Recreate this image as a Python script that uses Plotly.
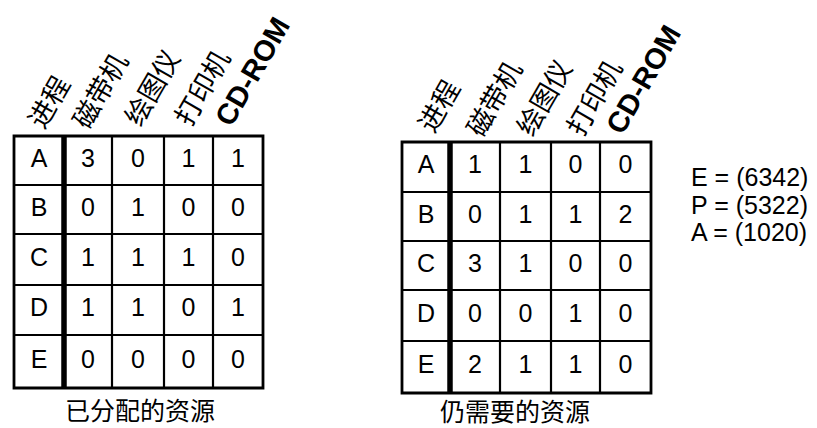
import plotly.graph_objects as go

# ---------------- data ----------------
processes = ["A", "B", "C", "D", "E"]
header_first = "进程"
resources = ["磁带机", "绘图仪", "打印机", "CD-ROM"]
allocated = [
    [3, 0, 1, 1],
    [0, 1, 0, 0],
    [1, 1, 1, 0],
    [1, 1, 0, 1],
    [0, 0, 0, 0],
]
still_needed = [
    [1, 1, 0, 0],
    [0, 1, 1, 2],
    [3, 1, 0, 0],
    [0, 0, 1, 0],
    [2, 1, 1, 0],
]
caption_left = "已分配的资源"
caption_right = "仍需要的资源"
vector_names = ["E", "P", "A"]
vector_values = ["6342", "5322", "1020"]

# ---------------- layout / style ----------------
W, H = 817, 428
LATIN = "Liberation Sans, Arial, Helvetica, sans-serif"
CJK = "Noto Sans CJK SC, sans-serif"

tables = [
    dict(values=allocated, caption=caption_left,
         cols=[14, 64, 112, 164, 213, 263],
         rows=[136, 185, 234, 285, 335, 388],
         hdx=[8, 10, 12, 11.5, 14], hdy=[35, 46, 49, 49, 64],
         cap_x=140, cap_y=409),
    dict(values=still_needed, caption=caption_right,
         cols=[402, 450, 500, 551, 600, 651],
         rows=[142, 192, 241, 290, 341, 393],
         hdx=[11, 17, 16.5, 16.5, 17.5], hdy=[37, 44, 45, 45, 62],
         cap_x=515, cap_y=410),
]

fig = go.Figure()
shapes = []
annotations = []

for t in tables:
    cols, rows = t["cols"], t["rows"]
    x0, x1 = cols[0], cols[-1]
    y0, y1 = rows[0], rows[-1]
    for yy in rows[1:-1]:
        shapes.append(dict(type="line", xref="x", yref="y", x0=x0, x1=x1, y0=yy, y1=yy,
                           line=dict(color="black", width=2.2)))
    for k, xx in enumerate(cols[1:-1]):
        w = 5.5 if k == 0 else 2.2
        shapes.append(dict(type="line", xref="x", yref="y", x0=xx, x1=xx, y0=y0, y1=y1,
                           line=dict(color="black", width=w)))
    shapes.append(dict(type="rect", xref="x", yref="y", x0=x0, x1=x1, y0=y0, y1=y1,
                       line=dict(color="black", width=2.8)))

    xs, ys, txt = [], [], []
    for r, p in enumerate(processes):
        cy = (rows[r] + rows[r + 1]) / 2
        xs.append((cols[0] + cols[1]) / 2)
        ys.append(cy)
        txt.append(p)
        for c, v in enumerate(t["values"][r]):
            xs.append((cols[c + 1] + cols[c + 2]) / 2)
            ys.append(cy)
            txt.append(str(v))
    fig.add_trace(go.Scatter(x=xs, y=ys, text=txt, mode="text",
                             textfont=dict(family=LATIN, size=25, color="black"),
                             textposition="middle center", hoverinfo="skip",
                             showlegend=False))

    headers = [header_first] + resources
    for c, h in enumerate(headers):
        cx = (cols[c] + cols[c + 1]) / 2 + t["hdx"][c]
        cy = y0 - t["hdy"][c]
        if h == "CD-ROM":
            font = dict(family=LATIN, size=29, color="black", weight="bold")
        else:
            font = dict(family=CJK, size=27, color="black")
        annotations.append(dict(x=cx, y=cy, xref="x", yref="y", text=h, showarrow=False,
                                textangle=-60, font=font, xanchor="center", yanchor="middle"))

    annotations.append(dict(x=t["cap_x"], y=t["cap_y"], xref="x", yref="y", text=t["caption"],
                            showarrow=False, font=dict(family=CJK, size=25, color="black"),
                            xanchor="center", yanchor="middle"))

for i, (n, v) in enumerate(zip(vector_names, vector_values)):
    annotations.append(dict(x=689, y=177 + 27.5 * i, xref="x", yref="y",
                            text=f"{n} = ({v})", showarrow=False,
                            font=dict(family=LATIN, size=25, color="black"),
                            xanchor="left", yanchor="middle"))

fig.update_layout(
    width=W, height=H,
    margin=dict(l=0, r=0, t=0, b=0),
    paper_bgcolor="white", plot_bgcolor="white",
    shapes=shapes, annotations=annotations,
    xaxis=dict(range=[0, W], visible=False, fixedrange=True),
    yaxis=dict(range=[H, 0], visible=False, fixedrange=True),
    showlegend=False,
)

fig.write_html("out.html", config={"displayModeBar": False},
               post_script="document.body.style.margin='0px';document.body.style.overflow='hidden';")
